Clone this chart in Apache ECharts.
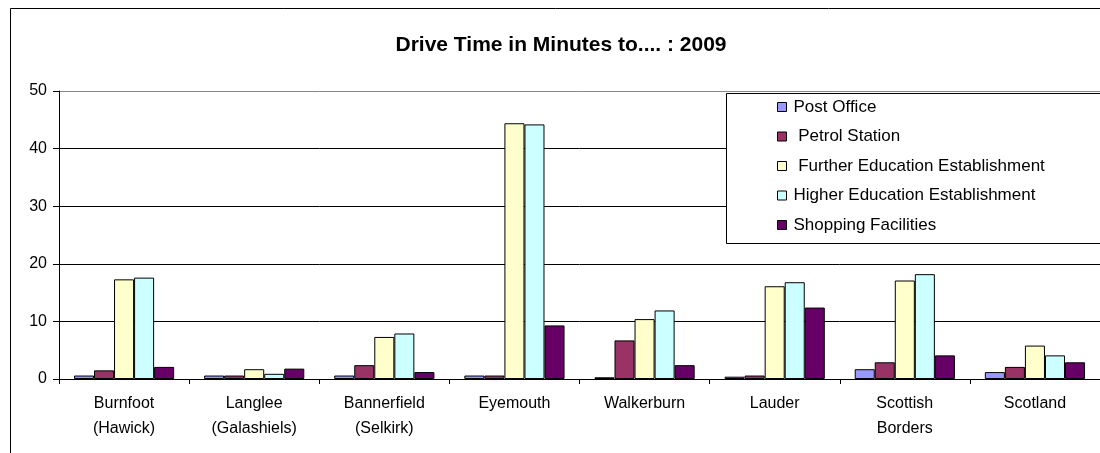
<!DOCTYPE html>
<html>
<head>
<meta charset="utf-8">
<script src="https://cdn.jsdelivr.net/npm/echarts@6/dist/echarts.min.js"></script>
<style>
    html, body { margin: 0; padding: 0; background: #fff; }
    #chart { width: 1100px; height: 453px; }
</style>
</head>
<body>
<div id="chart"></div>
<script>
// areas along the x axis
const places = ['Burnfoot\n(Hawick)', 'Langlee\n(Galashiels)', 'Bannerfield\n(Selkirk)', 'Eyemouth',
    'Walkerburn', 'Lauder', 'Scottish\nBorders', 'Scotland'];

// drive time in minutes, one array per facility
const postOffice = [0.6, 0.6, 0.6, 0.6, 0.3, 0.4, 1.7, 1.2];
const petrolStation = [1.5, 0.6, 2.4, 0.6, 6.7, 0.6, 2.9, 2.1];
const furtherEducation = [17.3, 1.7, 7.3, 44.4, 10.4, 16.1, 17.1, 5.8];
const higherEducation = [17.6, 0.9, 7.9, 44.2, 11.9, 16.8, 18.2, 4.1];
const shopping = [2.1, 1.8, 1.2, 9.3, 2.4, 12.4, 4.1, 2.9];

const seriesNames = ['Post Office', ' Petrol Station', ' Further Education Establishment',
    'Higher Education Establishment', 'Shopping Facilities'];
const seriesData = [postOffice, petrolStation, furtherEducation, higherEducation, shopping];
const colors = ['#9999FF', '#993366', '#FFFFCC', '#CCFFFF', '#660066'];

const font = 'Arial, "Liberation Sans", sans-serif';

let chart = echarts.init(document.getElementById('chart'));
let option = {
    animation: false,
    color: colors,
    textStyle: {
        fontFamily: font
    },
    title: {
        text: 'Drive Time in Minutes to.... : 2009',
        left: 556,
        top: 30,
        textAlign: 'center',
        textStyle: {
            fontSize: 21,
            fontWeight: 'bold',
            color: '#000',
            fontFamily: font
        }
    },
    graphic: [{
        type: 'rect',
        z: 0,
        silent: true,
        shape: { x: 10.5, y: 8.5, width: 1200, height: 600 },
        style: { fill: 'none', stroke: '#000', lineWidth: 1 }
    }, {
        type: 'rect',
        z: 3,
        silent: true,
        shape: { x: 726.5, y: 93.5, width: 500, height: 150 },
        style: { fill: '#fff', stroke: '#000', lineWidth: 1 }
    }],
    legend: {
        orient: 'vertical',
        left: 772,
        top: 93.5,
        itemWidth: 9,
        itemHeight: 9,
        itemGap: 12.5,
        icon: 'rect',
        itemStyle: {
            borderColor: '#000',
            borderWidth: 1
        },
        textStyle: {
            fontSize: 17,
            lineHeight: 17,
            color: '#000',
            fontFamily: font,
            padding: [0, 0, 0, 2]
        },
        data: seriesNames
    },
    grid: {
        left: 59,
        top: 91,
        right: -3,
        bottom: 74,
        containLabel: false
    },
    xAxis: {
        type: 'category',
        data: places,
        axisLine: {
            lineStyle: { color: '#000', width: 1 }
        },
        axisTick: {
            show: true,
            length: 5,
            interval: 0,
            lineStyle: { color: '#000' }
        },
        axisLabel: {
            interval: 0,
            fontSize: 16,
            lineHeight: 25,
            margin: 12,
            color: '#000',
            fontFamily: font
        }
    },
    yAxis: {
        type: 'value',
        min: 0,
        max: 50,
        interval: 10,
        axisLine: {
            show: true,
            lineStyle: { color: '#000', width: 1 }
        },
        axisTick: {
            show: true,
            length: 6,
            lineStyle: { color: '#000' }
        },
        axisLabel: {
            fontSize: 16,
            margin: 12,
            color: '#000',
            fontFamily: font
        },
        splitLine: {
            show: true,
            lineStyle: {
                color: ['#000', '#000', '#000', '#000', '#000', '#888'],
                width: 1
            }
        }
    },
    series: seriesNames.map(function(name, i) {
        return {
            name: name,
            type: 'bar',
            data: seriesData[i],
            barGap: '0%',
            barCategoryGap: '23%',
            itemStyle: {
                borderColor: '#000',
                borderWidth: 1
            }
        };
    })
};
chart.setOption(option);
</script>
</body>
</html>
